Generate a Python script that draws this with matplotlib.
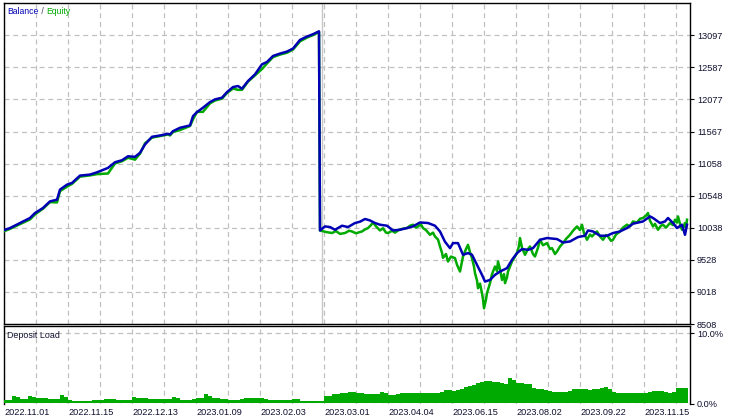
import matplotlib
matplotlib.use('Agg')
import matplotlib.pyplot as plt
import numpy as np

plt.rcParams['font.family'] = ['Liberation Sans', 'DejaVu Sans']

# balance / equity, x = deal index along the test
bal_x = [3, 10, 20, 30, 35, 43, 50, 57, 60, 67, 72, 80, 90, 97, 108, 115, 122, 128, 135, 140,
         145, 152, 160, 168, 170, 173, 180, 190, 193, 197, 203, 210, 215, 222, 227, 233, 238, 242, 248, 255,
         262, 267, 273, 280, 287, 293, 300, 307, 313, 319,
         320, 325, 330, 335, 342, 348, 355, 360, 365, 370, 375, 380, 387, 393, 400, 407, 413, 420, 428, 435,
         440, 445, 450, 453, 458, 463, 468, 472, 477, 482, 485, 490, 495, 500, 507, 512, 517, 522, 528, 533,
         540, 547, 557, 563, 570, 578, 585, 588, 593, 600, 607, 613, 620, 627, 633, 643, 650, 653, 660, 665,
         668, 673, 677, 682, 685, 687]
balance = [9995, 10033, 10113, 10193, 10272, 10352, 10457, 10484, 10644, 10723, 10750, 10867, 10883, 10919, 10989,
           11079, 11111, 11174, 11165, 11229, 11361, 11484, 11504, 11531, 11520, 11573, 11627, 11664, 11812, 11876,
           11946, 12035, 12078, 12105, 12194, 12274, 12290, 12248, 12370, 12476, 12636, 12673, 12768, 12806, 12838,
           12886, 13023, 13077, 13114, 13160,
           9995, 10059, 10049, 10006, 10070, 10049, 10113, 10134, 10177, 10154, 10113, 10086, 10070, 9995, 10006,
           10033, 10059, 10122, 10113, 10070, 9979, 9815, 9714, 9794, 9794, 9608, 9635, 9608, 9448, 9289,
           9182, 9209, 9289, 9342, 9396, 9528, 9635, 9699, 9687, 9714, 9847, 9874, 9858, 9804, 9820,
           9890, 9911, 9995, 9979, 9911, 9911, 9954, 9979, 10033, 10102, 10138, 10218, 10193, 10113, 10138,
           10193, 10113, 10033, 10086, 9926, 10086]

eq_x = [3, 10, 20, 30, 35, 43, 50, 57, 60, 67, 72, 80, 90, 97, 108, 115, 122, 128, 135, 140,
        145, 152, 160, 168, 170, 173, 180, 190, 193, 197, 203, 210, 215, 222, 227, 233, 238, 242, 248, 255,
        262, 267, 273, 280, 287, 293, 300, 307, 313, 319,
        320, 326, 332, 336, 340, 345, 349, 352, 356, 362, 365, 368, 371, 373, 376, 380, 383, 386, 388, 392,
        395, 398, 402, 407, 410, 413, 416, 418, 421, 423, 426, 430, 433, 435, 438, 440, 442, 443, 446, 448,
        451, 455, 457, 460, 462, 463, 466, 468, 470, 472, 474, 475, 477, 478, 480, 482, 483, 484, 486, 487,
        489, 490, 492, 495, 497, 498, 500, 502, 504, 505, 507, 508, 510, 512, 515, 517, 519, 520, 522, 525,
        528, 530, 533, 535, 538, 540, 543, 547, 550, 552, 555, 557, 560, 563, 566, 570, 573, 577, 580, 582,
        584, 587, 590, 592, 595, 597, 600, 603, 606, 608, 611, 613, 616, 620, 623, 627, 630, 633, 637, 640,
        643, 646, 648, 650, 653, 655, 658, 661, 663, 666, 670, 673, 675, 677, 678, 680, 682, 684, 685, 686,
        687]
equity = [9975, 10020, 10095, 10170, 10250, 10340, 10445, 10440, 10620, 10690, 10735, 10850, 10870, 10890, 10900,
          11060, 11095, 11150, 11120, 11215, 11380, 11470, 11495, 11520, 11505, 11560, 11590, 11655, 11760, 11880,
          11880, 12015, 12060, 12090, 12180, 12250, 12230, 12230, 12360, 12460, 12560, 12650, 12750, 12790, 12820,
          12870, 13000, 13060, 13100, 13150,
          9995, 9970, 9954, 9985, 9940, 9954, 9990, 9979, 9950, 9979, 10010, 10033, 10080, 10122, 10060,
          9995, 10030, 9960, 9954, 9990, 9960, 9995, 10020, 10033, 10070, 10086, 10040, 10059, 10090, 10033,
          10000, 9926, 9960, 9899, 9850, 9740, 9640, 9560, 9620, 9501, 9580, 9555, 9450, 9342, 9500,
          9581, 9700, 9767, 9650, 9555, 9420, 9316, 9200, 9077, 9150, 8997, 8900, 8758, 8900, 8997,
          9100, 9157, 9300, 9421, 9350, 9501, 9380, 9209, 9300, 9157, 9250, 9342, 9420, 9501, 9580,
          9635, 9750, 9874, 9720, 9608, 9700, 9740, 9620, 9581, 9720, 9847, 9760, 9794, 9700, 9714,
          9620, 9660, 9740, 9794, 9860, 9926, 9990, 10059, 10000, 10086, 9950, 9847, 9930, 9899, 9950,
          9979, 9900, 9847, 9920, 9899, 9830, 9847, 9930, 9979, 10040, 10086, 10060, 10138, 10120, 10180,
          10193, 10230, 10272, 10150, 10059, 10100, 10006, 10070, 10086, 10040, 10113, 10080, 10166, 10120, 10218,
          10100, 10006, 10070, 10113, 10040, 10166]

# deposit load (%), sampled every 4 deals
load_x = np.arange(4, 692, 4)
load = [0.45, 0.55, 1.0, 0.9, 0.7, 0.65, 1.05, 0.95, 0.85, 0.78, 0.72, 0.7, 0.6, 0.58, 1.15, 0.9,
        0.5, 0.42, 0.4, 0.38, 0.42, 0.4, 0.45, 0.5, 0.55, 0.6, 0.68, 0.62, 0.52, 0.48, 0.5, 0.55,
        0.9, 0.85, 0.82, 0.75, 0.62, 0.58, 0.6, 0.62, 0.68, 0.7, 0.95, 0.8, 0.52, 0.48, 0.5, 0.6,
        0.82, 0.78, 1.35, 1.0, 0.78, 0.72, 0.68, 0.6, 0.5, 0.48, 0.52, 0.6, 0.82, 0.78, 0.78, 0.72,
        0.75, 0.65, 0.52, 0.48, 0.45, 0.48, 0.52, 0.55, 0.7, 0.6, 0.35, 0.33, 0.35, 0.36, 0.38, 0.42,
        1.0, 1.1, 1.3, 1.4, 1.45, 1.55, 1.62, 1.58, 1.55, 1.5, 1.38, 1.32, 1.28, 1.35, 1.7, 1.55,
        1.2, 1.25, 1.38, 1.42, 1.45, 1.48, 1.42, 1.45, 1.5, 1.48, 1.45, 1.42, 1.5, 1.6, 1.92, 1.88,
        1.82, 1.9, 2.1, 2.3, 2.45, 2.6, 2.9, 3.0, 3.15, 3.25, 3.1, 3.05, 2.9, 2.7, 3.6, 3.3,
        2.95, 2.85, 2.8, 2.7, 2.2, 2.05, 2.0, 1.95, 1.75, 1.68, 1.65, 1.6, 1.7, 1.8, 2.0, 2.05,
        2.1, 2.0, 1.95, 2.05, 2.1, 2.15, 2.3, 2.05, 1.6, 1.55, 1.5, 1.52, 1.55, 1.5, 1.52, 1.5,
        1.55, 1.6, 1.82, 1.78, 1.72, 1.6, 1.55, 1.6, 2.2, 2.15, 2.18, 2.12]

y_ticks = [8508, 9018, 9528, 10038, 10548, 11058, 11567, 12077, 12587, 13097]
date_labels = ['2022.11.01', '2022.11.15', '2022.12.13', '2023.01.09', '2023.02.03', '2023.03.01',
               '2023.04.04', '2023.06.15', '2023.08.02', '2023.09.22', '2023.11.15']
drop_at = 321.5

txt = '#101030'
grid_c = '#c0c0c0'
blue = '#0000b4'
green = '#00aa00'

fig = plt.figure(figsize=(7.31, 4.19), dpi=100)
W, H = 731, 419
ax = fig.add_axes([4 / W, 1 - 324 / H, 686 / W, 321 / H])
ax2 = fig.add_axes([4 / W, 1 - 403.5 / H, 686 / W, 77.5 / H], sharex=ax)

xt = np.arange(4, 690, 32)
for a in (ax, ax2):
    a.set_xticks(xt)
    a.grid(True, color=grid_c, linestyle=(0, (4, 3)), linewidth=0.9)
    a.set_axisbelow(True)
    for s in a.spines.values():
        s.set_color('black')
        s.set_linewidth(1.0)
    a.yaxis.tick_right()
    a.tick_params(axis='y', direction='out', length=3, width=0.8, pad=2,
                  labelsize=6.6, labelcolor=txt, colors='black')
    a.tick_params(axis='x', length=0, labelsize=6.6, labelcolor=txt, pad=3)

ax.axvline(drop_at, color='#c8c8c8', linewidth=1.0, zorder=1)
ax.plot(eq_x, equity, color=green, linewidth=1.8, zorder=3)
ax.plot(bal_x, balance, color=blue, linewidth=1.8, zorder=4)
ax.set_xlim(4, 690)
ax.set_ylim(8508, 13610)
ax.set_yticks(y_ticks)
ax.set_yticklabels([str(v) for v in y_ticks])
ax.tick_params(axis='x', labelbottom=False)

t1 = ax.text(0.005, 0.972, 'Balance', color=blue, fontsize=6.2, va='center', transform=ax.transAxes)
ax.annotate(' / ', xycoords=t1, xy=(1, 0.5), va='center', fontsize=6.2, color='#404060')
ax.annotate('Equity', xycoords=t1, xy=(1, 0.5), xytext=(5.5, 0), textcoords='offset points',
            va='center', fontsize=6.2, color=green)

ax2.fill_between(load_x, load, 0, step='post', color=green, linewidth=0, zorder=3)
ax2.set_ylim(0, 11)
ax2.set_yticks([0, 10])
ax2.set_yticklabels(['0.0%', '10.0%'])
ax2.spines['bottom'].set_visible(False)
labels = [date_labels[i // 2] if i % 2 == 0 else '' for i in range(len(xt))]
ax2.set_xticklabels(labels, ha='left')
ax2.text(0.005, 0.88, 'Deposit Load', color=txt, fontsize=6.4, va='center', transform=ax2.transAxes)

fig.savefig('out.png', dpi=100)
